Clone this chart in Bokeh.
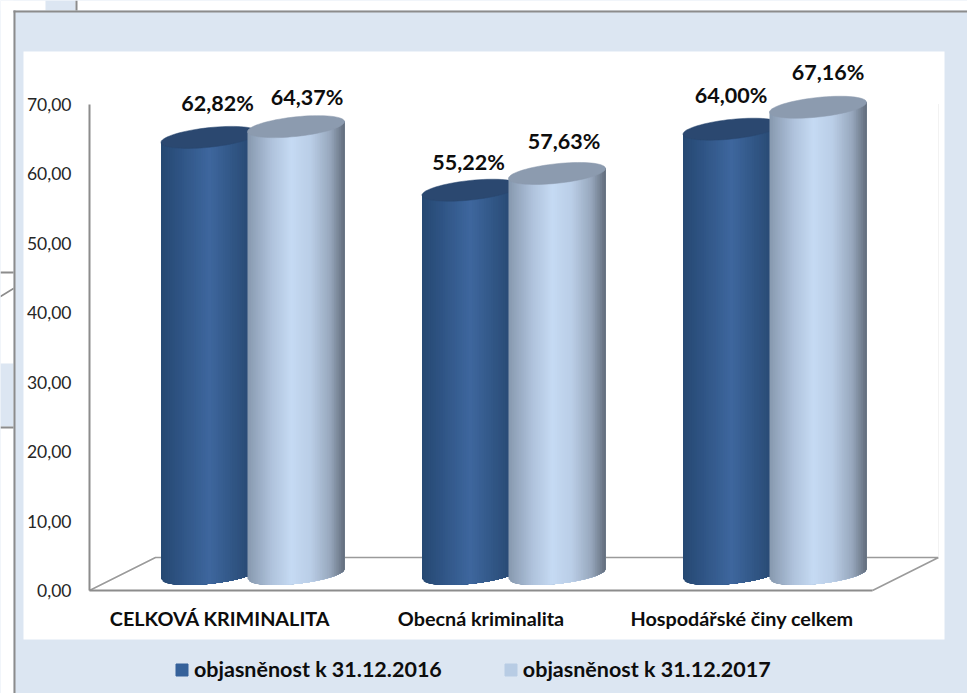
import numpy as np
from bokeh.embed import file_html
from bokeh.resources import INLINE
from bokeh.plotting import figure
from bokeh.core.properties import value
from bokeh.models import (BoxAnnotation, PolyAnnotation, FixedTicker, Legend, LegendItem,
                          Range1d)

categories = ["CELKOVÁ KRIMINALITA", "Obecná kriminalita", "Hospodářské činy celkem"]
series_names = ["objasněnost k 31.12.2016", "objasněnost k 31.12.2017"]
values_2016 = [62.82, 55.22, 64.00]
values_2017 = [64.37, 57.63, 67.16]
y_ticks = [0, 10, 20, 30, 40, 50, 60, 70]
y_tick_labels = ["0,00", "10,00", "20,00", "30,00", "40,00", "50,00", "60,00", "70,00"]

PANEL = "#DCE6F2"
GREY = "#8C8C8C"
FONT = "Lato"
W, H = 967, 693
X0, Y0 = 89, 590            # pixel of the axes' origin
CAT_PX = 261.0              # pixels per category
UNIT_PX = 6.95              # pixels per value unit
DEPTH_X, DEPTH_Y = 66 / CAT_PX, 33 / UNIT_PX   # floor depth
A = 48.5 / CAT_PX           # cylinder half width
B = 9.8 / UNIT_PX           # ellipse half height
S = 5.0 / UNIT_PX           # ellipse tilt
SERIES_DX = [-43.5 / CAT_PX, 43.0 / CAT_PX]

p = figure(width=W, height=H, output_backend="svg", toolbar_location=None,
           x_range=Range1d(-X0 / CAT_PX, (W - X0) / CAT_PX),
           y_range=Range1d(-(H - Y0) / UNIT_PX, Y0 / UNIT_PX),
           min_border=0, border_fill_color=PANEL, background_fill_color=PANEL,
           outline_line_color=None)
p.grid.visible = False


def box(l, t, r, b, color):
    p.add_layout(BoxAnnotation(left=l, right=r, top=t, bottom=b,
                               left_units="canvas", right_units="canvas",
                               top_units="canvas", bottom_units="canvas",
                               fill_color=color, fill_alpha=1, line_alpha=0, level="underlay"))


# surrounding page fragments and panels (page pixels)
box(0, 0, 967, 10, "white")
box(0, 0, 13, 693, "white")
box(45, 0, 75, 10, PANEL)
box(75, 0, 77, 10, GREY)
box(0, 271, 13, 273, GREY)
box(0, 363, 13, 426, PANEL)
box(0, 426, 13, 428, GREY)
p.add_layout(PolyAnnotation(xs=[0, 13, 13, 0], ys=[295, 287, 289, 297], xs_units="canvas", ys_units="canvas",
                            fill_color=GREY, fill_alpha=1, line_alpha=0, level="underlay"))
box(13, 10, 967, 12, GREY)
box(13, 10, 15, 693, GREY)
box(23, 51, 944, 639, "white")

# floor
fx = [0, DEPTH_X, 3 + DEPTH_X, 3]
fy = [0, DEPTH_Y, DEPTH_Y, 0]
p.line(fx, fy, line_color="#9A9A9A", line_width=1.6)
p.line([3 + DEPTH_X] * 2, [DEPTH_Y, 70], line_color="#F2F2F2", line_width=1)

STOPS_U = [
    [-1, -0.6, 0, 0.8, 1],
    [-1, -0.5, -0.1, 0.3, 0.7, 1],
]
STOPS_C = [
    ["#264872", "#2F5484", "#3E679E", "#294B75", "#264670"],
    ["#8798AE", "#AFC3DC", "#C5DAF3", "#BACEE7", "#98A8BE", "#626D7C"],
]
TOP_COLORS = ["#2B4870", "#8C9BAF"]
LEGEND_COLORS = ["#35619A", "#B8CCE4"]


def strip_colors(i, u):
    cs = [[int(c[k:k + 2], 16) for k in (1, 3, 5)] for c in STOPS_C[i]]
    return ["#%02x%02x%02x" % tuple(int(round(np.interp(x, STOPS_U[i], [c[j] for c in cs]))) for j in range(3))
            for x in u]


edges = np.linspace(-1, 1, 57)[:-1]
theta = np.linspace(0, 2 * np.pi, 73)

for c in range(len(categories)):
    for i, vals in enumerate([values_2016, values_2017]):
        xc = c + 0.5 + DEPTH_X / 2 + SERIES_DX[i]
        y0 = DEPTH_Y / 2
        y1 = vals[c] + DEPTH_Y / 2
        xs, ys = [], []
        for u0 in edges:
            # each strip reaches the right edge, later strips paint over it: no seams
            u = np.linspace(u0, 1, 25)
            xs.append(list(xc + A * u) + [xc + A, xc + A * u0])
            ys.append(list(y0 + S * u - B * np.sqrt(1 - u ** 2)) + [y1 + S, y1 + S * u0])
        colors = strip_colors(i, edges + (edges[1] - edges[0]) / 2)
        p.patches(xs, ys, fill_color=colors, line_color=None)
        p.patch(xc + A * np.cos(theta), y1 + S * np.cos(theta) + B * np.sin(theta),
                fill_color=TOP_COLORS[i], line_color=TOP_COLORS[i], line_width=0.5)

# data labels
label_dx = [[8, 11], [-2, 7], [-0.5, 10]]
label_dy = [[34, 30], [28.5, 32], [34.5, 35]]
lx, ly, lt = [], [], []
for c in range(len(categories)):
    for i, vals in enumerate([values_2016, values_2017]):
        lx.append(c + 0.5 + DEPTH_X / 2 + SERIES_DX[i] + label_dx[c][i] / CAT_PX)
        ly.append(vals[c] + DEPTH_Y / 2 + label_dy[c][i] / UNIT_PX)
        lt.append(f"{vals[c]:.2f}%".replace(".", ","))
p.text(lx, ly, text=lt, text_font=value(FONT), text_font_style="bold", text_font_size="21.5px",
       text_color="#0D0D0D", text_align="center", text_baseline="middle")

# axes
xa = p.xaxis[0]
xa.fixed_location = 0
xa.bounds = (0, 3)
xa.ticker = FixedTicker(ticks=[0.5, 1.5, 2.5])
xa.major_label_overrides = {0.5: categories[0], 1.5: categories[1], 2.5: categories[2]}
xa.major_label_text_font = FONT
xa.major_label_text_font_style = "bold"
xa.major_label_text_font_size = "19.8px"
xa.major_label_text_color = "#0D0D0D"
xa.major_label_standoff = 9
xa.major_tick_line_color = None
xa.minor_tick_line_color = None
xa.axis_line_color = GREY
xa.axis_line_width = 2

ya = p.yaxis[0]
ya.fixed_location = 0
ya.bounds = (0, 70)
ya.ticker = FixedTicker(ticks=y_ticks)
ya.major_label_overrides = dict(zip(y_ticks, y_tick_labels))
ya.major_label_text_font = FONT
ya.major_label_text_font_size = "17.5px"
ya.major_label_text_color = "#262626"
ya.major_label_standoff = 12
ya.major_tick_line_color = None
ya.minor_tick_line_color = None
ya.axis_line_color = GREY
ya.axis_line_width = 2

# legend
items = []
for name, col in zip(series_names, LEGEND_COLORS):
    r = p.quad(left=[-9], right=[-8], bottom=[-99], top=[-98], fill_color=col, line_color=col)
    items.append(LegendItem(label=name, renderers=[r]))
legend = Legend(items=items, orientation="horizontal", location=(174, 11), spacing=61,
                glyph_width=15, glyph_height=15, label_standoff=5, padding=0, margin=0,
                background_fill_alpha=0, border_line_color=None,
                label_text_font=FONT, label_text_font_style="bold", label_text_font_size="21.5px",
                label_text_color="#0D0D0D")
p.add_layout(legend, "center")

open("out.html", "w").write(file_html(p, INLINE))
